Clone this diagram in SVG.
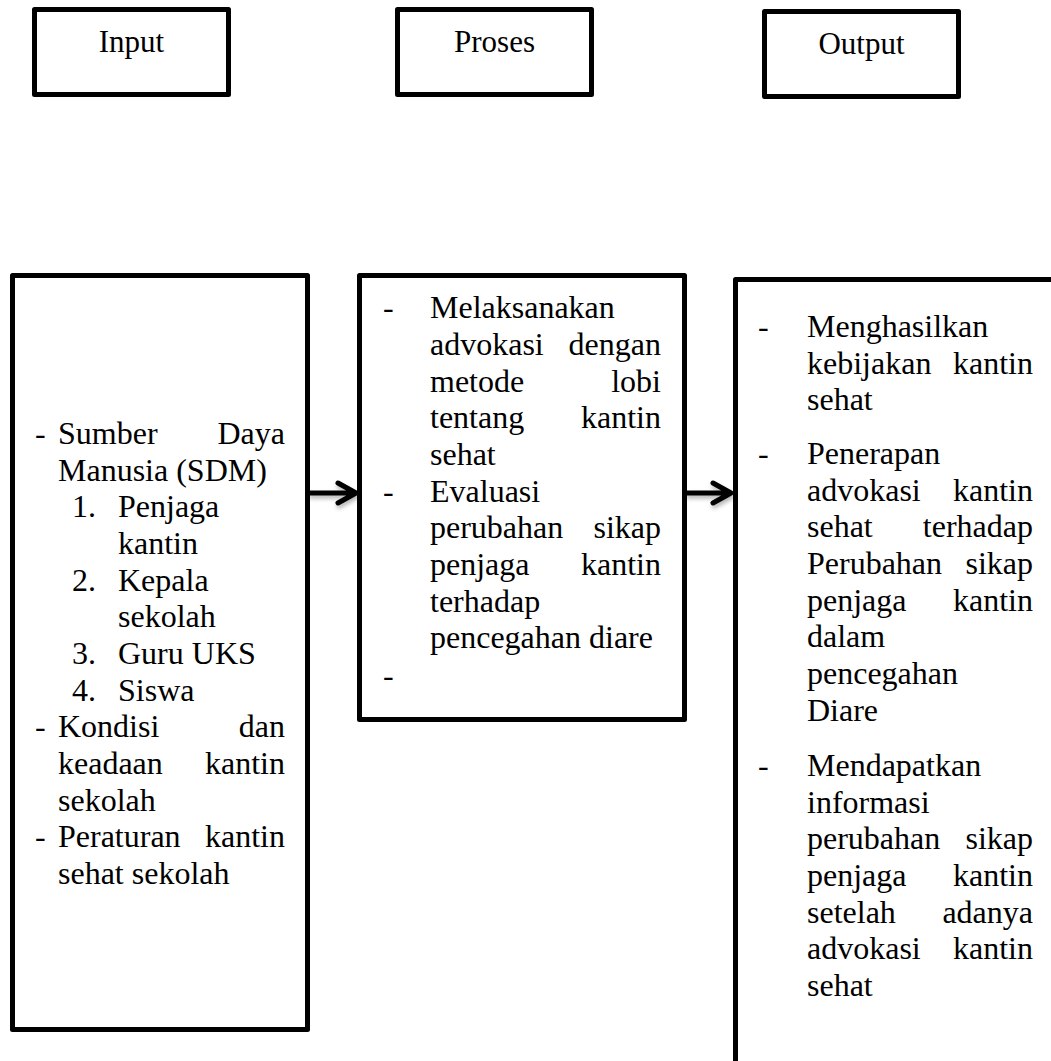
<svg xmlns="http://www.w3.org/2000/svg" width="1051" height="1061" viewBox="0 0 1051 1061">
<style>
.box{fill:#fff;stroke:#000;stroke-width:5;stroke-linejoin:round}
.t{font-family:"Liberation Serif","Times New Roman",serif;font-size:32px;fill:#000}
.h{font-family:"Liberation Serif","Times New Roman",serif;font-size:31px;fill:#000;text-anchor:middle}
.e{text-anchor:end}
.arr{fill:none;stroke:#000;stroke-width:5;stroke-linecap:round;stroke-linejoin:round}
</style>
<defs>
<filter id="sh" x="-20%" y="-50%" width="140%" height="200%">
<feDropShadow dx="1" dy="3" stdDeviation="2" flood-color="#000" flood-opacity="0.3"/>
</filter>
</defs>
<rect width="1051" height="1061" fill="#fff"/>

<g id="head-input">
<rect class="box" x="34.5" y="9.5" width="194" height="85"/>
<text class="h" x="131.5" y="52">Input</text>
</g>
<g id="head-proses">
<rect class="box" x="397.5" y="9.5" width="194" height="85"/>
<text class="h" x="494.5" y="52">Proses</text>
</g>
<g id="head-output">
<rect class="box" x="764.5" y="11.5" width="194" height="85"/>
<text class="h" x="861.5" y="54">Output</text>
</g>

<g id="input-box">
<rect class="box" x="12.5" y="275.5" width="295" height="754"/>
<g class="t">
<text x="35" y="444">-</text><text x="58" y="444">Sumber</text><text class="e" x="285" y="444">Daya</text>
<text x="58" y="480.7">Manusia (SDM)</text>
<text x="72" y="517.3">1.</text><text x="118" y="517.3">Penjaga</text>
<text x="118" y="554">kantin</text>
<text x="72" y="590.7">2.</text><text x="118" y="590.7">Kepala</text>
<text x="118" y="627.3">sekolah</text>
<text x="72" y="664">3.</text><text x="118" y="664">Guru UKS</text>
<text x="72" y="700.7">4.</text><text x="118" y="700.7">Siswa</text>
<text x="35" y="737.3">-</text><text x="58" y="737.3">Kondisi</text><text class="e" x="285" y="737.3">dan</text>
<text x="58" y="774">keadaan</text><text class="e" x="285" y="774">kantin</text>
<text x="58" y="810.7">sekolah</text>
<text x="35" y="847.3">-</text><text x="58" y="847.3">Peraturan</text><text class="e" x="285" y="847.3">kantin</text>
<text x="58" y="884">sehat sekolah</text>
</g>
</g>

<g id="proses-box">
<rect class="box" x="359.5" y="275.5" width="325" height="444"/>
<g class="t">
<text x="383" y="318.3">-</text><text x="430" y="318.3">Melaksanakan</text>
<text x="430" y="355">advokasi</text><text class="e" x="661" y="355">dengan</text>
<text x="430" y="391.7">metode</text><text class="e" x="661" y="391.7">lobi</text>
<text x="430" y="428.3">tentang</text><text class="e" x="661" y="428.3">kantin</text>
<text x="430" y="465">sehat</text>
<text x="383" y="501.7">-</text><text x="430" y="501.7">Evaluasi</text>
<text x="430" y="538.3">perubahan</text><text class="e" x="661" y="538.3">sikap</text>
<text x="430" y="575">penjaga</text><text class="e" x="661" y="575">kantin</text>
<text x="430" y="611.7">terhadap</text>
<text x="430" y="648.3">pencegahan diare</text>
<text x="383" y="686">-</text>
</g>
</g>

<g id="output-box">
<path class="box" d="M735.5 1070 V279.5 H1060"/>
<g class="t">
<text x="758" y="337">-</text><text x="807" y="337">Menghasilkan</text>
<text x="807" y="373.7">kebijakan</text><text class="e" x="1033" y="373.7">kantin</text>
<text x="807" y="410.3">sehat</text>
<text x="758" y="464">-</text><text x="807" y="464">Penerapan</text>
<text x="807" y="500.7">advokasi</text><text class="e" x="1033" y="500.7">kantin</text>
<text x="807" y="537.3">sehat</text><text class="e" x="1033" y="537.3">terhadap</text>
<text x="807" y="574">Perubahan</text><text class="e" x="1033" y="574">sikap</text>
<text x="807" y="610.7">penjaga</text><text class="e" x="1033" y="610.7">kantin</text>
<text x="807" y="647.3">dalam</text>
<text x="807" y="684">pencegahan</text>
<text x="807" y="720.7">Diare</text>
<text x="758" y="776">-</text><text x="807" y="776">Mendapatkan</text>
<text x="807" y="812.7">informasi</text>
<text x="807" y="849.3">perubahan</text><text class="e" x="1033" y="849.3">sikap</text>
<text x="807" y="886">penjaga</text><text class="e" x="1033" y="886">kantin</text>
<text x="807" y="922.7">setelah</text><text class="e" x="1033" y="922.7">adanya</text>
<text x="807" y="959.3">advokasi</text><text class="e" x="1033" y="959.3">kantin</text>
<text x="807" y="996">sehat</text>
</g>
</g>

<g id="connectors" filter="url(#sh)">
<path class="arr" d="M310 493 H354 M338 483 L356 493 L338 503"/>
<path class="arr" d="M687 493 H729 M713 483 L731 493 L713 503"/>
</g>
</svg>
